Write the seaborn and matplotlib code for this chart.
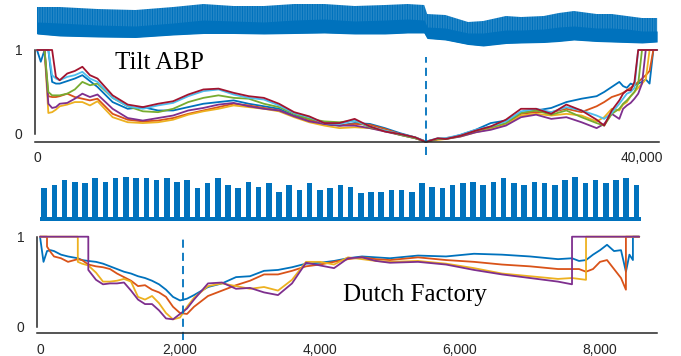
import numpy as np
import pandas as pd
import matplotlib
matplotlib.use("Agg")
import matplotlib.pyplot as plt
import seaborn as sns

# MATLAB default colour order
matlab_colors = ['#0072BD', '#D95319', '#EDB120', '#7E2F8E', '#77AC30', '#4DBEEE', '#A2142F']
axis_grey = '#262626'

# ---------------- Tilt ABP ----------------
# arterial pressure envelope (mmHg): systolic peaks, notch level, diastolic troughs
abp_x = [0, 1500, 4000, 6500, 9000, 11000, 13000, 15000, 17000, 19000, 21000, 23000, 24500, 25600,
         25800, 27000, 28500, 29500, 31000, 32000, 33500, 34500, 35500, 37000, 38000, 39000, 40000, 41000]
abp_peak = [146, 146, 142, 140, 146, 152, 148, 148, 152, 152, 148, 150, 152, 150,
            132, 130, 116, 118, 128, 126, 128, 134, 138, 132, 132, 128, 124, 124]
abp_notch = [116, 114, 110, 108, 114, 120, 118, 116, 120, 122, 118, 120, 122, 120,
             106, 104, 94, 94, 100, 100, 102, 106, 108, 104, 104, 102, 98, 98]
abp_trough = [92, 88, 86, 85, 90, 93, 93, 92, 93, 94, 92, 92, 94, 94,
              83, 80, 71, 68, 73, 74, 75, 77, 80, 77, 76, 75, 74, 76]

tilt_x = [0, 250, 500, 750, 1000, 1250, 1500, 2000, 2500, 3000, 3500, 4000,
          5000, 6000, 7000, 8000, 9000, 10000, 11000, 12000, 13000, 14000, 15000, 16000,
          17000, 18000, 19000, 20000, 21000, 22000, 23000, 24000, 25000, 25700, 26500,
          27000, 28000, 29000, 30000, 31000, 32000, 33000, 34000, 35000, 36000, 37000,
          37500, 38000, 38500, 38750, 39000, 39250, 39500, 39750, 40000, 40250, 40500, 40750, 41000]
tilt_blue = [1, 0.86, 1, 1, 0.62, 0.60, 0.60, 0.63, 0.66, 0.70, 0.63, 0.56,
             0.38, 0.30, 0.32, 0.28, 0.28, 0.32, 0.36, 0.38, 0.40, 0.36,
             0.33, 0.30, 0.22, 0.18, 0.11, 0.10, 0.13, 0.12, 0.07, 0.01, -0.04,
             -0.09, -0.06, -0.06, -0.01, 0.05, 0.13, 0.16, 0.25, 0.28, 0.31, 0.38, 0.42, 0.45,
             0.50, 0.56, 0.62, 0.57, 0.55, 0.60, 0.58, 0.60, 0.62, 0.65, 0.60, 1, 1]
tilt_orange = [1, 1, 1, 0.45, 0.44, 0.44, 0.45, 0.48, 0.44, 0.42, 0.40, 0.42,
               0.24, 0.17, 0.15, 0.16, 0.19, 0.24, 0.28, 0.32, 0.36, 0.34,
               0.31, 0.28, 0.21, 0.16, 0.13, 0.10, 0.12, 0.11, 0.06, 0.0, -0.04,
               -0.09, -0.06, -0.05, -0.02, 0.03, 0.07, 0.12, 0.24, 0.26, 0.26, 0.30, 0.26, 0.33,
               0.38, 0.44, 0.47, 0.49, 0.52, 0.55, 0.58, 0.62, 0.66, 0.70, 0.75, 1, 1]
tilt_yellow = [1, 1, 1, 0.25, 0.26, 0.29, 0.33, 0.35, 0.38, 0.38, 0.34, 0.39,
               0.20, 0.14, 0.13, 0.14, 0.17, 0.23, 0.27, 0.30, 0.34, 0.32,
               0.30, 0.27, 0.20, 0.14, 0.10, 0.07, 0.08, 0.07, 0.04, -0.01, -0.05,
               -0.09, -0.07, -0.06, -0.03, 0.02, 0.06, 0.11, 0.22, 0.24, 0.22, 0.24, 0.22, 0.15,
               0.20, 0.30, 0.28, 0.35, 0.38, 0.45, 0.50, 0.55, 0.60, 0.65, 1, 1, 1]
tilt_purple = [1, 1, 1, 0.36, 0.31, 0.32, 0.36, 0.37, 0.42, 0.48, 0.44, 0.47,
               0.30, 0.19, 0.16, 0.19, 0.22, 0.28, 0.31, 0.35, 0.37, 0.33,
               0.30, 0.28, 0.21, 0.15, 0.12, 0.10, 0.10, 0.07, 0.03, -0.01, -0.05,
               -0.09, -0.06, -0.06, -0.03, 0.02, 0.05, 0.10, 0.20, 0.23, 0.18, 0.20, 0.14, 0.07,
               0.12, 0.24, 0.18, 0.30, 0.34, 0.37, 0.42, 0.48, 0.60, 1, 1, 1, 1]
tilt_green = [1, 1, 1, 0.50, 0.46, 0.46, 0.46, 0.48, 0.53, 0.62, 0.58, 0.60,
              0.43, 0.33, 0.27, 0.26, 0.30, 0.38, 0.43, 0.46, 0.43, 0.42,
              0.36, 0.32, 0.24, 0.18, 0.15, 0.14, 0.16, 0.08, 0.04, -0.01, -0.05,
              -0.09, -0.06, -0.06, -0.02, 0.04, 0.08, 0.13, 0.25, 0.28, 0.23, 0.28, 0.20, 0.13,
              0.10, 0.24, 0.30, 0.36, 0.40, 0.45, 0.50, 0.60, 1, 1, 1, 1, 1]
tilt_cyan = [1, 1, 1, 1, 0.70, 0.66, 0.64, 0.68, 0.70, 0.74, 0.66, 0.62,
             0.43, 0.33, 0.30, 0.34, 0.37, 0.45, 0.51, 0.53, 0.47, 0.43,
             0.41, 0.34, 0.25, 0.20, 0.13, 0.12, 0.16, 0.09, 0.04, 0.0, -0.04,
             -0.09, -0.05, -0.05, -0.01, 0.05, 0.09, 0.15, 0.27, 0.30, 0.26, 0.32, 0.28, 0.22,
             0.18, 0.25, 0.36, 0.42, 0.48, 0.50, 0.55, 1, 1, 1, 1, 1, 1]
tilt_red = [1, 1, 1, 1, 1, 0.68, 0.64, 0.72, 0.75, 0.80, 0.70, 0.66,
            0.46, 0.35, 0.32, 0.36, 0.39, 0.47, 0.53, 0.54, 0.49, 0.45,
            0.43, 0.36, 0.26, 0.21, 0.13, 0.13, 0.18, 0.09, 0.03, 0.0, -0.04,
            -0.095, -0.05, -0.06, -0.02, 0.04, 0.09, 0.17, 0.30, 0.30, 0.24, 0.35, 0.28, 0.17,
            0.10, 0.28, 0.40, 0.48, 0.52, 0.52, 0.62, 1, 1, 1, 1, 1, 1]
tilt_event = 25700
tilt_labels = [0, 40000]

# ---------------- Dutch Factory ----------------
# power bursts: height of each burst, and the idle band between bursts
dutch_burst_peak = [52, 55, 60, 58, 57, 62, 58, 62, 63, 62, 62, 60, 62, 58, 60, 52, 57, 62, 55, 52,
                    58, 53, 57, 48, 55, 50, 57, 50, 52, 55, 53,
                    47, 48, 48, 50, 50, 48, 57, 53, 52, 55, 57, 58, 55, 58, 62, 57, 55, 58, 57,
                    55, 60, 63, 57, 60, 57, 60, 62, 55]
dutch_idle = [19, 23]
dutch_span = [0, 8580]

dutch_x = [0, 50, 100, 100, 150, 200, 300, 400, 540, 540, 600, 690, 690,
           800, 900, 1000, 1100, 1200, 1300, 1400, 1500, 1600, 1700, 1800, 1900, 2000, 2100, 2200,
           2400, 2600, 2800, 3000, 3200, 3400, 3600, 3800, 4000, 4200, 4400, 4600, 4800, 5000,
           5400, 5800, 6200, 6600, 7000, 7400,
           7600, 7600, 7700, 7800, 7800, 7900, 8000, 8100, 8200, 8300,
           8370, 8370, 8420, 8470, 8470, 8560]
dutch_blue = [1.0, 0.72, 0.84, 0.84, 0.85, 0.84, 0.80, 0.78, 0.76, 0.76, 0.74, 0.73, 0.73,
              0.72, 0.70, 0.67, 0.64, 0.61, 0.59, 0.56, 0.54, 0.51, 0.47, 0.41, 0.33, 0.29, 0.31, 0.35,
              0.44, 0.48, 0.55, 0.56, 0.62, 0.63, 0.66, 0.70, 0.71, 0.73, 0.76, 0.78, 0.77, 0.76,
              0.79, 0.78, 0.81, 0.80, 0.78, 0.75,
              0.76, 0.76, 0.73, 0.74, 0.74, 0.80, 0.85, 0.91, 0.84, 0.85,
              0.61, 0.61, 0.80, 0.74, 1.0, 1.0]
dutch_orange = [1, 1, 1, 0.89, 0.83, 0.78, 0.76, 0.72, 0.75, 0.75, 0.74, 0.69, 0.69,
                0.67, 0.66, 0.64, 0.59, 0.55, 0.51, 0.45, 0.46, 0.41, 0.38, 0.33, 0.22, 0.15, 0.14, 0.22,
                0.34, 0.40, 0.46, 0.51, 0.58, 0.58, 0.62, 0.67, 0.69, 0.72, 0.75, 0.77, 0.75, 0.74,
                0.77, 0.74, 0.72, 0.69, 0.67, 0.64,
                0.64, 0.64, 0.64, 0.61, 0.61, 0.64, 0.72, 0.74, 0.64, 0.54,
                0.41, 1, 1, 1, 1, 1]
dutch_yellow = [1, 1, 1, 1, 1, 1, 1, 1, 1, 0.72, 0.70, 0.68, 0.68,
                0.60, 0.50, 0.50, 0.51, 0.53, 0.50, 0.33, 0.30, 0.34, 0.26, 0.15, 0.08, 0.10, 0.22, 0.32,
                0.45, 0.48, 0.45, 0.42, 0.44, 0.40, 0.52, 0.72, 0.72, 0.69, 0.77, 0.75, 0.73, 0.72,
                0.73, 0.70, 0.65, 0.59, 0.56, 0.53,
                0.54, 0.54, 0.53, 0.52, 1, 1, 1, 1, 1, 1,
                1, 1, 1, 1, 1, 1]
dutch_purple = [1, 1, 1, 1, 1, 1, 1, 1, 1, 1, 1, 1, 0.63,
                0.52, 0.47, 0.48, 0.48, 0.49, 0.40, 0.30, 0.25, 0.25, 0.18, 0.09, 0.08, 0.14, 0.20, 0.30,
                0.48, 0.49, 0.42, 0.43, 0.38, 0.35, 0.48, 0.71, 0.68, 0.65, 0.76, 0.77, 0.73, 0.71,
                0.72, 0.69, 0.63, 0.58, 0.54, 0.50,
                0.47, 1, 1, 1, 1, 1, 1, 1, 1, 1,
                1, 1, 1, 1, 1, 1]
dutch_event = 2043
dutch_labels = [0, 2000, 4000, 6000, 8000]


def long_form(x, series):
    frames = []
    for name, vals in series.items():
        frames.append(pd.DataFrame({'x': x, 'v': vals, 'series': name}))
    return pd.concat(frames, ignore_index=True)


def frame_profile(ax, xlim, ylim, n_ticks, labels, label_pad):
    ax.set_xlim(xlim)
    ax.set_ylim(ylim)
    sns.despine(ax=ax)
    ax.spines['left'].set_bounds(0, 1)
    for s in ('left', 'bottom'):
        ax.spines[s].set_color(axis_grey)
        ax.spines[s].set_linewidth(1.1)
    ax.set_yticks(np.arange(0, 1.01, 0.2), ['0', '', '', '', '', '1'])
    ticks = np.linspace(xlim[0], xlim[1], n_ticks)
    ax.set_xticks(ticks, [''] * n_ticks)
    ax.set_xticks(labels, [f'{v:,}' for v in labels], minor=True)
    ax.tick_params(direction='in', length=4, width=1.1, colors=axis_grey, labelsize=10)
    ax.tick_params(axis='y', pad=9)
    ax.tick_params(axis='x', which='minor', length=0, pad=label_pad, labelsize=10)
    ax.set_xlabel('')
    ax.set_ylabel('')


sns.set_theme(style='white')
plt.rcParams['font.family'] = ['Liberation Sans', 'DejaVu Sans']
plt.rcParams['hatch.linewidth'] = 1.1
plt.rcParams['hatch.color'] = matlab_colors[0]

W, H = 681, 356
fig = plt.figure(figsize=(W / 100, H / 100), dpi=100)


def px_axes(left, right, top, bottom):
    return fig.add_axes([left / W, 1 - bottom / H, (right - left) / W, (bottom - top) / H])


tilt_xlim = (-132, 41124)
dutch_xlim = (-43, 8814)

# ---- top: raw ABP signal ----
ax_s1 = px_axes(35, 659, 0, 50)
# striped beats from trough to systolic peak, dense body below the notch
ax_s1.fill_between(abp_x, abp_trough, abp_peak, facecolor='white', edgecolor=matlab_colors[0],
                   hatch='|' * 10, lw=0)
ax_s1.fill_between(abp_x, abp_trough, abp_notch, color=matlab_colors[0], lw=0)
ax_s1.set_xlim(tilt_xlim)
ax_s1.set_ylim(60, 160)
ax_s1.axis('off')

# ---- top: profiles ----
ax_p1 = px_axes(35, 659, 48.3, 142.4)
tilt_df = long_form(tilt_x, {'blue': tilt_blue, 'orange': tilt_orange, 'yellow': tilt_yellow,
                             'purple': tilt_purple, 'green': tilt_green, 'cyan': tilt_cyan,
                             'red': tilt_red})
sns.lineplot(data=tilt_df, x='x', y='v', hue='series', palette=matlab_colors,
             estimator=None, sort=False, legend=False, linewidth=1.3, ax=ax_p1)
for ln in ax_p1.lines:
    ln.set_clip_on(False)
frame_profile(ax_p1, tilt_xlim, (-0.1, 1.02), 9, tilt_labels, 6)
ax_p1.axvline(tilt_event, ymin=(-0.25 + 0.1) / 1.12, ymax=(0.92 + 0.1) / 1.12, clip_on=False,
              color=matlab_colors[0], lw=1.3, dashes=(4.5, 2.8))
ax_p1.text(0.128, 0.78, 'Tilt ABP', transform=ax_p1.transAxes, family='Liberation Serif',
           fontsize=18, color='black', ha='left', va='baseline')

# ---- bottom: raw factory signal ----
ax_s2 = px_axes(37, 657, 170, 232)
centers = np.linspace(dutch_span[0] + 60, dutch_span[1] - 60, len(dutch_burst_peak))
ax_s2.fill_between(dutch_span, dutch_idle[0], dutch_idle[1], color=matlab_colors[0], lw=0)
ax_s2.bar(centers, np.array(dutch_burst_peak) - dutch_idle[0], bottom=dutch_idle[0],
          width=80, color=matlab_colors[0], lw=0)
ax_s2.set_xlim(dutch_xlim)
ax_s2.set_ylim(8, 70)
ax_s2.axis('off')

# ---- bottom: profiles ----
ax_p2 = px_axes(37, 657, 234.9, 333)
dutch_df = long_form(dutch_x, {'blue': dutch_blue, 'orange': dutch_orange,
                               'yellow': dutch_yellow, 'purple': dutch_purple})
sns.lineplot(data=dutch_df, x='x', y='v', hue='series', palette=matlab_colors[:4],
             estimator=None, sort=False, legend=False, linewidth=1.3, ax=ax_p2)
for ln in ax_p2.lines:
    ln.set_clip_on(False)
frame_profile(ax_p2, dutch_xlim, (-0.072, 1.02), 10, dutch_labels, 7)
ax_p2.axvline(dutch_event, ymin=(-0.15 + 0.072) / 1.092, ymax=(1.0 + 0.072) / 1.092, clip_on=False,
              color=matlab_colors[0], lw=1.3, dashes=(4.5, 2.8))
ax_p2.text(0.4935, 0.329, 'Dutch Factory', transform=ax_p2.transAxes, family='Liberation Serif',
           fontsize=18, color='black', ha='left', va='baseline')

fig.savefig('out.png', dpi=100)
